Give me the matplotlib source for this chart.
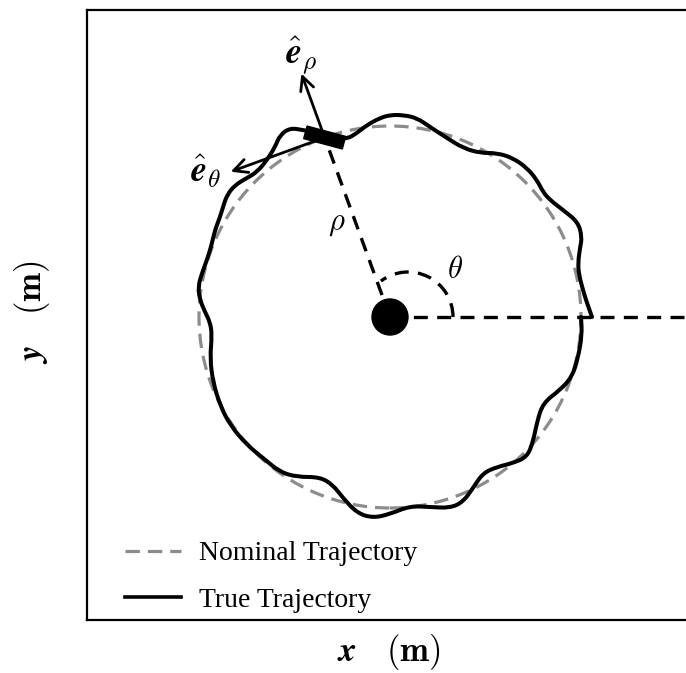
import matplotlib
matplotlib.use("Agg")
import matplotlib.pyplot as plt
import numpy as np
from matplotlib.patches import Circle, Arc, Rectangle, PathPatch
from matplotlib.path import Path

plt.rcParams["mathtext.fontset"] = "cm"

# geometry (pixel-like units, origin at the central body)
R_NOM = 191.0          # nominal orbit radius
SC_ANGLE = 110.0       # spacecraft polar angle, deg
SC_TILT = -15.0        # spacecraft body tilt, deg
E_RHO_LEN = 60.0
E_THETA_LEN = 100.0

# true (perturbed) trajectory (image x, image y)
TRUE_X_IMG = [592, 586, 583, 579, 578, 580, 582, 578, 563, 550, 543, 537, 527,
              513, 497, 480, 463, 447, 430, 417, 403, 390, 380, 367, 357, 347,
              335, 324, 312, 303, 290, 280, 275, 267, 257, 247, 235, 227, 223,
              220, 215, 212, 208, 202, 198, 200, 205, 210, 212, 210, 213, 220,
              230, 247, 263, 280, 297, 320, 333, 343, 357, 373, 390, 410, 430,
              450, 463, 473, 483, 497, 513, 527, 533, 537, 543, 560, 572, 578,
              582, 581]
TRUE_Y_IMG = [317, 300, 290, 275, 263, 248, 237, 222, 210, 200, 192, 180, 168,
              158, 153, 153, 148, 138, 127, 118, 115, 115, 118, 125, 133, 139,
              138, 136, 132, 130, 128, 135, 147, 160, 172, 178, 185, 195, 207,
              217, 230, 243, 257, 273, 287, 300, 312, 322, 335, 358, 382, 405,
              425, 445, 458, 472, 477, 477, 485, 498, 513, 518, 514, 506, 507,
              508, 502, 488, 473, 467, 463, 457, 442, 422, 403, 390, 377, 358,
              335, 317]
CENTER_IMG = (390, 317)

tx = np.array(TRUE_X_IMG, float) - CENTER_IMG[0]
ty = CENTER_IMG[1] - np.array(TRUE_Y_IMG, float)

W, H = 686, 673
fig = plt.figure(figsize=(W / 100, H / 100), dpi=100)
left_px, right_px, top_px, bot_px = 87, 700, 10, 620
ax = fig.add_axes([left_px / W, (H - bot_px) / H,
                   (right_px - left_px) / W, (bot_px - top_px) / H])
ax.set_xlim(left_px - CENTER_IMG[0], right_px - CENTER_IMG[0])
ax.set_ylim(CENTER_IMG[1] - bot_px, CENTER_IMG[1] - top_px)
ax.set_xticks([])
ax.set_yticks([])
for s in ax.spines.values():
    s.set_linewidth(1.6)

# nominal trajectory
nom_style = dict(color="#8c8c8c", lw=2.3, ls=(0, (4.5, 2.5)))
ax.add_patch(Circle((0, 0), R_NOM, fill=False, ec=nom_style["color"],
                    lw=nom_style["lw"], ls=nom_style["ls"], zorder=2))
ax.plot([np.nan], [np.nan], label="Nominal Trajectory", **nom_style)

# true trajectory: traced points used as quadratic bezier controls
pts = np.column_stack([tx, ty])
mids = (pts[:-1] + pts[1:]) / 2
verts = [pts[0], mids[0]]
codes = [Path.MOVETO, Path.LINETO]
for i in range(1, len(pts) - 1):
    verts += [pts[i], mids[i]]
    codes += [Path.CURVE3, Path.CURVE3]
verts.append(pts[-1])
codes.append(Path.LINETO)
ax.add_patch(PathPatch(Path(verts, codes), fill=False, ec="black", lw=2.9,
                       joinstyle="round", capstyle="round", zorder=3))
ax.plot([np.nan], [np.nan], color="black", lw=2.6, label="True Trajectory")

# reference lines
dash = (0, (4.2, 2.8))
ax.plot([0, 400], [0, 0], color="black", lw=2.4, ls=dash, zorder=4)
a = np.deg2rad(SC_ANGLE)
sc = np.array([R_NOM * np.cos(a), R_NOM * np.sin(a)])
ax.plot([0, sc[0]], [0, sc[1]], color="black", lw=2.4, ls=dash, zorder=4)
ax.add_patch(Arc((18, 0), 90, 90, theta1=0, theta2=127, color="black",
                 lw=2.4, ls=dash, zorder=4))
ax.add_patch(Circle((0, 0), 18, color="black", zorder=5))

# unit vectors
e_rho = np.array([np.cos(a), np.sin(a)])
e_th = np.array([-np.sin(a), np.cos(a)])
arrow = dict(arrowstyle="->,head_length=0.7,head_width=0.35", lw=2,
             color="black", shrinkA=0, shrinkB=0, mutation_scale=14)
ax.annotate("", xy=sc + e_rho * (E_RHO_LEN + 8), xytext=sc + e_rho * 8,
            arrowprops=arrow, zorder=6)
ax.annotate("", xy=sc + e_th * E_THETA_LEN, xytext=sc,
            arrowprops=arrow, zorder=6)
ax.add_patch(Rectangle((sc[0] - 20, sc[1] - 6.5), 40, 13, angle=SC_TILT,
                       rotation_point="center", color="black", zorder=7))

ax.text(-89, 262, r"$\hat{\boldsymbol{e}}_{\rho}$", fontsize=26,
        ha="center", va="center")
ax.text(-184, 146, r"$\hat{\boldsymbol{e}}_{\theta}$", fontsize=26,
        ha="center", va="center")
ax.text(-53, 94, r"$\rho$", fontsize=22, ha="center", va="center")
ax.text(65, 48, r"$\theta$", fontsize=22, ha="center", va="center")

ax.legend(loc="lower left", frameon=False,
          prop={"family": "Liberation Serif", "size": 20},
          handlelength=2.0, handletextpad=0.65, labelspacing=0.75,
          borderpad=0, borderaxespad=0, bbox_to_anchor=(0.062, 0.012))

fig.text(389 / W, 1 - 652 / H, r"$\boldsymbol{x}\ \ \ \mathbf{(m)}$",
         fontsize=25, ha="center", va="center")
fig.text(32 / W, 1 - 312 / H, r"$\boldsymbol{y}\ \ \ \mathbf{(m)}$",
         fontsize=25, ha="center", va="center", rotation=90)

fig.savefig("out.png", dpi=100)
